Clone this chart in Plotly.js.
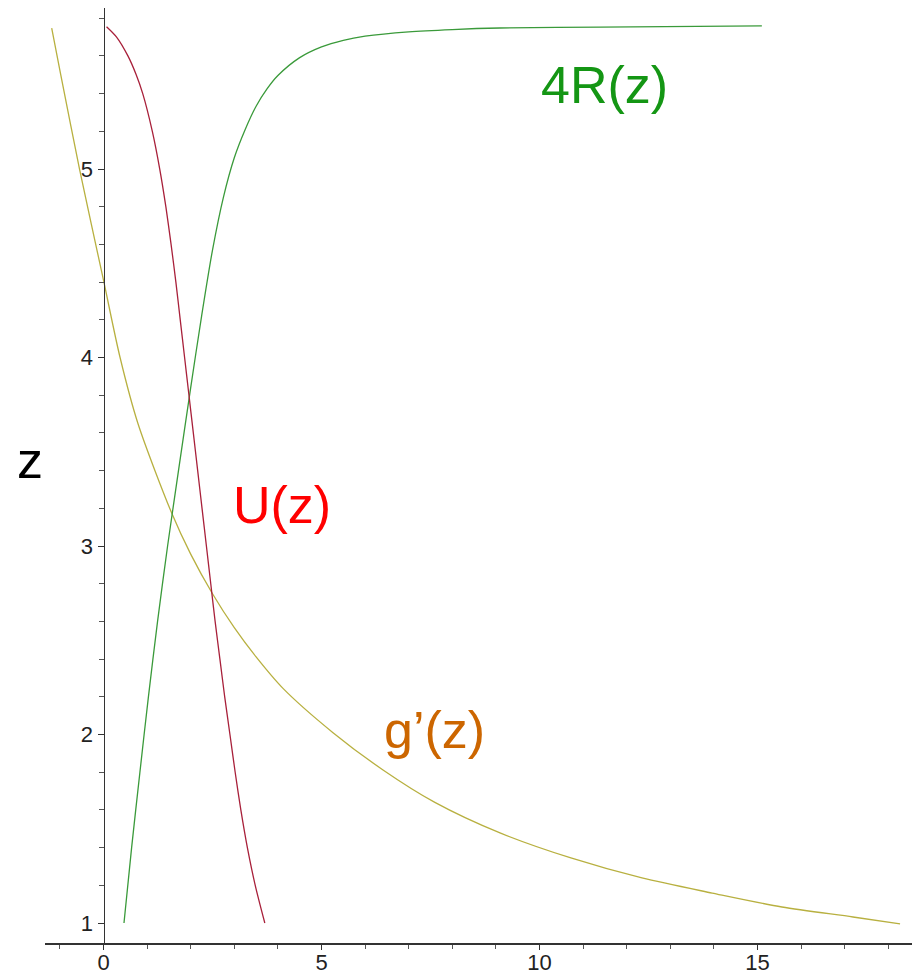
<!DOCTYPE html>
<html>
<head>
<meta charset="utf-8">
<script src="https://cdn.plot.ly/plotly-3.0.1.min.js"></script>
<style>
  html, body { margin: 0; padding: 0; background: #ffffff; }
  #chart { width: 912px; height: 974px; }
</style>
</head>
<body>
<div id="chart"></div>
<script>
// U(z): values plotted against height z
const uZ = [5.755, 5.70, 5.60, 5.50, 5.40, 5.20, 5.00, 4.80, 4.60, 4.40, 4.20, 4.00, 3.80, 3.60,
            3.40, 3.20, 3.00, 2.80, 2.60, 2.40, 2.20, 2.00, 1.80, 1.60, 1.40, 1.20, 1.00];
const uVal = [0.07, 0.30, 0.56, 0.75, 0.90, 1.12, 1.29, 1.43, 1.55, 1.66, 1.76, 1.86, 1.96, 2.06,
              2.16, 2.26, 2.36, 2.46, 2.56, 2.67, 2.78, 2.90, 3.02, 3.15, 3.30, 3.48, 3.70];

// 4R(z)
const rZ = [1.00, 1.40, 1.80, 2.20, 2.60, 3.00, 3.40, 3.84, 4.22, 4.57, 4.85, 5.06, 5.21,
            5.333, 5.425, 5.496, 5.591, 5.648, 5.683, 5.705, 5.728, 5.740, 5.748, 5.753, 5.759];
const rVal = [0.47, 0.645, 0.835, 1.03, 1.24, 1.47, 1.72, 2.00, 2.25, 2.50, 2.75, 3.00, 3.25,
              3.50, 3.75, 4.00, 4.50, 5.00, 5.50, 6.00, 7.00, 8.00, 9.09, 11.39, 15.10];

// g'(z)
const gZ = [5.748, 5.50, 5.00, 4.41, 4.00, 3.65, 3.175, 2.957, 2.747, 2.567, 2.412, 2.245,
            2.010, 1.812, 1.640, 1.478, 1.345, 1.239, 1.159, 1.085, 1.032, 0.995];
const gVal = [-1.188, -0.98, -0.55, 0.00, 0.38, 0.79, 1.564, 2.00, 2.50, 3.00, 3.50, 4.117,
              5.264, 6.411, 7.60, 9.094, 10.72, 12.35, 13.96, 15.56, 17.19, 18.27];

// Axis ticks
const xTickVals = [0, 5, 10, 15];
const zTickVals = [1, 2, 3, 4, 5];

// Curve labels
const labelText = ['4R(z)', 'U(z)', 'g\u2019(z)'];
const labelX = [11.50, 4.094, 7.603];
const labelZ = [5.446, 3.218, 2.024];
const labelColor = ['#149614', '#ff0000', '#cc6600'];

const lineWidth = 1.3;
const traces = [
  { x: gVal, y: gZ, mode: 'lines', line: { color: '#b8b040', width: lineWidth, shape: 'spline', smoothing: 0.8 }, hoverinfo: 'skip' },
  { x: rVal, y: rZ, mode: 'lines', line: { color: '#3a9a3a', width: lineWidth, shape: 'spline', smoothing: 0.8 }, hoverinfo: 'skip' },
  { x: uVal, y: uZ, mode: 'lines', line: { color: '#a8203a', width: lineWidth, shape: 'spline', smoothing: 0.8 }, hoverinfo: 'skip' }
];

// Plot geometry: x = 0 sits 58.5 px right of the plot's left edge
const plotLeft = 45, plotRight = 912, xZeroPx = 103.5;
const pxPerX = 43.6, pxPerZ = 188.5, plotHeight = 935;
const yAxisPos = (xZeroPx - plotLeft) / (plotRight - plotLeft);

const tickFont = { family: 'Liberation Sans, Arial, sans-serif', size: 22, color: '#222222' };
const labelFont = 'Liberation Sans, Arial, sans-serif';

const annotations = labelText.map((t, i) => ({
  x: labelX[i], y: labelZ[i], xref: 'x', yref: 'y',
  text: t, showarrow: false, xanchor: 'center', yanchor: 'middle',
  font: { family: labelFont, size: 52, color: labelColor[i] }
}));
// vertical-axis name, drawn upright to the left of the axis
annotations.push({
  xref: 'paper', yref: 'paper',
  x: -0.017, y: (943 - 460) / plotHeight,
  text: 'z', showarrow: false, xanchor: 'center', yanchor: 'middle',
  font: { family: labelFont, size: 52, color: '#000000' }
});

const layout = {
  width: 912, height: 974,
  margin: { l: plotLeft, r: 0, t: 8, b: 31, pad: 0 },
  paper_bgcolor: '#ffffff', plot_bgcolor: '#ffffff',
  showlegend: false,
  xaxis: {
    range: [-(xZeroPx - plotLeft) / pxPerX, (plotRight - xZeroPx) / pxPerX],
    showline: true, linecolor: '#333333', linewidth: 1.5,
    showgrid: false, zeroline: false,
    tickmode: 'array', tickvals: xTickVals, ticktext: xTickVals.map(String),
    ticks: 'outside', ticklen: 5, tickcolor: '#333333', tickwidth: 1,
    ticklabelstandoff: -6,
    minor: { tickmode: 'linear', tick0: 0, dtick: 1, ticks: 'outside', ticklen: 4, tickcolor: '#555555', tickwidth: 1, showgrid: false },
    tickfont: tickFont
  },
  yaxis: {
    range: [0.894, 0.894 + plotHeight / pxPerZ],
    anchor: 'free', position: yAxisPos, side: 'left',
    showline: true, linecolor: '#333333', linewidth: 1.5,
    showgrid: false, zeroline: false,
    tickmode: 'array', tickvals: zTickVals, ticktext: zTickVals.map(String),
    ticks: 'outside', ticklen: 6, tickcolor: '#333333', tickwidth: 1,
    minor: { tickmode: 'linear', tick0: 0, dtick: 0.2, ticks: 'outside', ticklen: 5, tickcolor: '#555555', tickwidth: 1, showgrid: false },
    tickfont: tickFont
  },
  annotations: annotations
};

Plotly.newPlot('chart', traces, layout, { staticPlot: true, displayModeBar: false });
</script>
</body>
</html>
